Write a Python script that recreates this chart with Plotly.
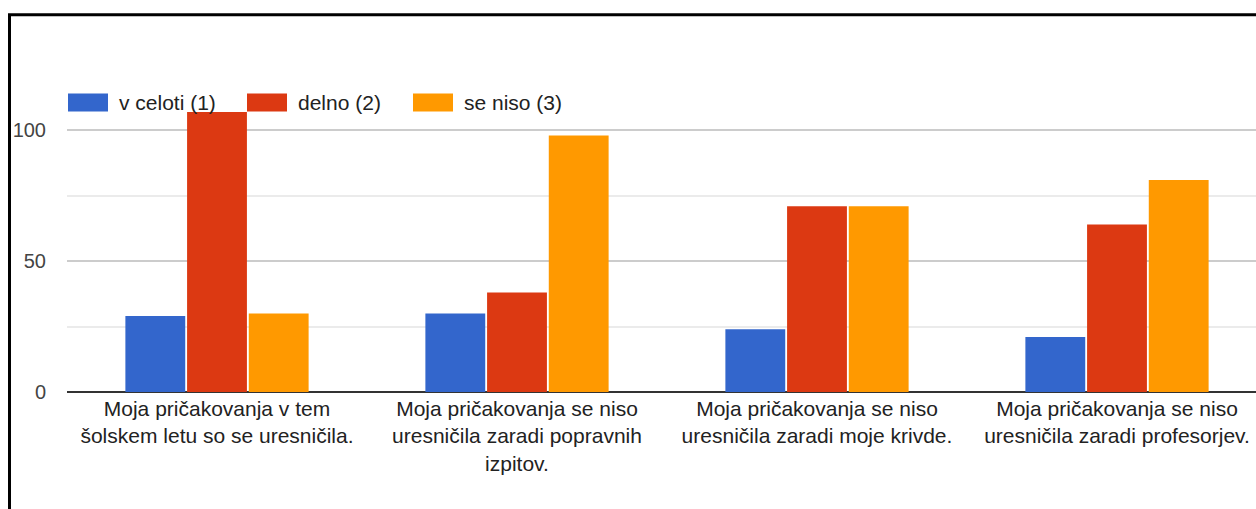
import plotly.graph_objects as go

categories = [
    "Moja pričakovanja v tem<br>šolskem letu so se uresničila.",
    "Moja pričakovanja se niso<br>uresničila zaradi popravnih<br>izpitov.",
    "Moja pričakovanja se niso<br>uresničila zaradi moje krivde.",
    "Moja pričakovanja se niso<br>uresničila zaradi profesorjev.",
]
series_names = ["v celoti (1)", "delno (2)", "se niso (3)"]
v_celoti = [29, 30, 24, 21]
delno = [107, 38, 71, 64]
se_niso = [30, 98, 71, 81]
colors = ["#3366cc", "#dc3912", "#ff9900"]

W, H = 1256, 509
L, R = 67, 0
T = 77.5
B = 509 - 392.3
plot_w = W - L - R
plot_h = H - T - B


def px_x(p):
    return (p - L) / plot_w


def px_y(p):
    return (H - B - p) / plot_h


fig = go.Figure()
for name, vals, col in zip(series_names, [v_celoti, delno, se_niso], colors):
    fig.add_trace(go.Bar(
        x=categories, y=vals, name=name, marker_color=col,
        marker_line_width=0, showlegend=False,
    ))

cat_px = 300.0
fig.update_layout(
    width=W, height=H,
    margin=dict(l=L, r=R, t=T, b=B, pad=0),
    paper_bgcolor="white", plot_bgcolor="white",
    barmode="group", bargap=0.383, bargroupgap=0.03,
    font=dict(family="Liberation Sans, Arial, sans-serif", size=21, color="#222222"),
    xaxis=dict(
        range=[-0.5, -0.5 + plot_w / cat_px],
        showgrid=False, showline=False, ticks="",
        tickfont=dict(size=21, color="#222222"),
        ticklabelstandoff=2,
        fixedrange=True,
    ),
    yaxis=dict(
        range=[0, 120], dtick=50, tick0=0,
        showgrid=True, gridcolor="#cccccc", gridwidth=1.5,
        zeroline=True, zerolinecolor="#333333", zerolinewidth=2,
        showline=False, ticks="",
        tickfont=dict(size=20, color="#444444"),
        ticklabelstandoff=20,
        minor=dict(dtick=25, tick0=0, showgrid=True, gridcolor="#ebebeb", gridwidth=1.5),
    ),
)

fig.add_shape(type="rect", xref="paper", yref="paper",
              x0=px_x(9.5), x1=px_x(1256 + 20), y0=px_y(509 + 20), y1=px_y(14),
              line=dict(color="black", width=3), fillcolor="rgba(0,0,0,0)", layer="above")

leg_x = [68, 247, 413]
for i, (name, col) in enumerate(zip(series_names, colors)):
    x0 = leg_x[i]
    fig.add_shape(type="rect", xref="paper", yref="paper",
                  x0=px_x(x0), x1=px_x(x0 + 40), y0=px_y(111), y1=px_y(93),
                  fillcolor=col, line=dict(width=0), layer="above")
    fig.add_annotation(xref="paper", yref="paper", x=px_x(x0 + 49), y=px_y(102),
                       text=name, showarrow=False, xanchor="left", yanchor="middle",
                       font=dict(size=21, color="#222222"))

fig.write_html(
    "out.html",
    config={"displayModeBar": False},
    post_script="document.body.style.margin='0';document.body.style.overflow='hidden';",
)
